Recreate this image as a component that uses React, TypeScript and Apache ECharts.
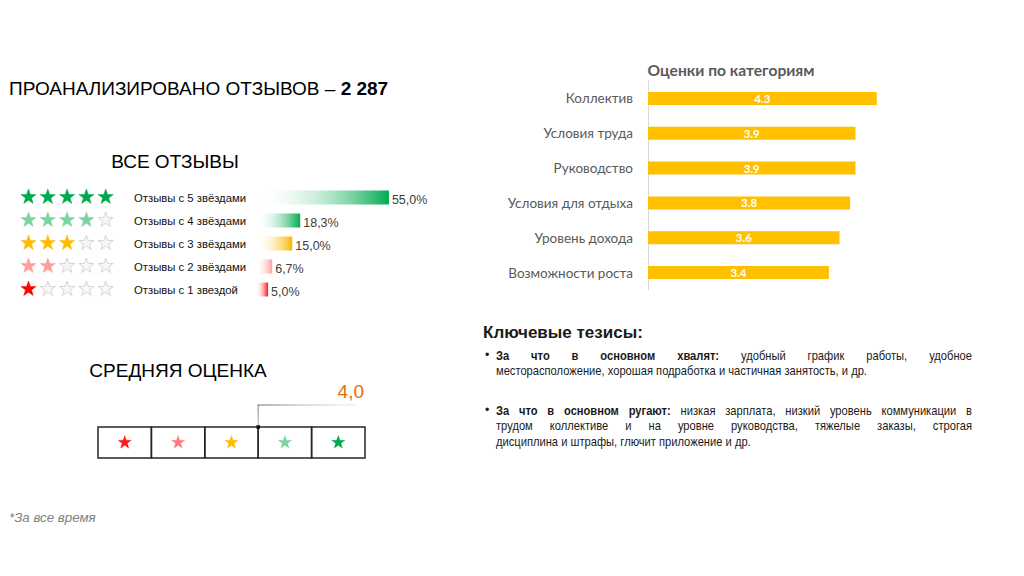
import React, { useEffect, useRef } from "react";
import * as echarts from "echarts";

// ---------- DATA ----------
const totalReviews = "2 287";
const categoryNames = [
  "Коллектив",
  "Условия труда",
  "Руководство",
  "Условия для отдыха",
  "Уровень дохода",
  "Возможности роста",
];
const categoryScores = [4.3, 3.9, 3.9, 3.8, 3.6, 3.4];

const starRowLabels = [
  "Отзывы с 5 звёздами",
  "Отзывы с 4 звёздами",
  "Отзывы с 3 звёздами",
  "Отзывы с 2 звёздами",
  "Отзывы с 1 звездой",
];
const starRowCounts = [5, 4, 3, 2, 1];
const starRowPercents = [55.0, 18.3, 15.0, 6.7, 5.0];
const averageRating = 4.0;

const praiseLead = "За что в основном хвалят:";
const praiseText = "удобный график работы, удобное месторасположение, хорошая подработка и частичная занятость, и др.";
const blameLead = "За что в основном ругают:";
const blameText = "низкая зарплата, низкий уровень коммуникации в трудом коллективе и на уровне руководства, тяжелые заказы, строгая дисциплина и штрафы, глючит приложение и др.";
// words per line for the justified paragraphs
const praiseLineWordCounts = [9, 8];
const blameLineWordCounts = [11, 9, 7];

// ---------- STYLES ----------
const ARIAL = "'Liberation Sans', Arial, sans-serif";
const CAL = "Lato, 'Noto Sans', sans-serif";
const rowStarColors = ["#00A84F", "#7DD3A0", "#FFBA00", "#FF9C9C", "#FF0000"];
const rowBarColors = ["#00AA50", "#00AA50", "#F8B800", "#FF9C9C", "#FF1010"];
const boxStarColors = ["#FF1A1A", "#FF7A7A", "#FFBA00", "#7DD3A0", "#00A84F"];

function starPts(cx: number, cy: number, R: number) {
  const r = R * 0.4;
  const pts: number[][] = [];
  for (let i = 0; i < 10; i++) {
    const a = -Math.PI / 2 + (i * Math.PI) / 5;
    const rr = i % 2 === 0 ? R : r;
    pts.push([cx + rr * Math.cos(a), cy + rr * Math.sin(a)]);
  }
  return pts;
}

function buildParagraph(
  lead: string,
  body: string,
  counts: number[],
  left: number,
  right: number,
  y0: number,
  lh: number,
  size: number,
  sx: number
) {
  const canvas = document.createElement("canvas");
  const ctx = canvas.getContext("2d")!;
  const measure = (t: string, b: boolean) => {
    ctx.font = `${b ? "bold " : ""}${size}px "Liberation Sans", Arial`;
    return ctx.measureText(t).width * sx;
  };
  const words = [
    ...lead.split(" ").map((t) => ({ t, b: true })),
    ...body.split(" ").map((t) => ({ t, b: false })),
  ];
  const els: any[] = [];
  let k = 0;
  counts.forEach((n, li) => {
    const lw = words.slice(k, k + n);
    k += n;
    const widths = lw.map((w) => measure(w.t, w.b));
    const total = widths.reduce((a, b) => a + b, 0);
    const last = li === counts.length - 1;
    const gap = last ? measure(" ", false) : (right - left - total) / (lw.length - 1);
    let x = left;
    const y = y0 + li * lh;
    lw.forEach((w, i) => {
      els.push({
        type: "text",
        x,
        y,
        scaleX: sx,
        style: {
          text: w.t,
          fill: "#1a1a1a",
          font: `${w.b ? "bold " : ""}${size}px ${ARIAL}`,
          verticalAlign: "middle",
        },
      });
      x += widths[i] + gap;
    });
  });
  els.push({
    type: "text",
    x: left - 11,
    y: y0,
    style: { text: "•", fill: "#1a1a1a", font: `${size}px ${ARIAL}`, verticalAlign: "middle" },
  });
  return els;
}

export default function App() {
  const ref = useRef<HTMLDivElement>(null);
  useEffect(() => {
    if (!ref.current) return;
    const chart = echarts.init(ref.current, undefined, { renderer: "svg" });

    const graphics: any[] = [];
    // Header
    graphics.push({
      type: "text",
      x: 9,
      y: 88,
      style: {
        text: `{a|ПРОАНАЛИЗИРОВАНО ОТЗЫВОВ – }{b|${totalReviews}}`,
        verticalAlign: "middle",
        rich: {
          a: { fontSize: 19, fontFamily: ARIAL, color: "#000" },
          b: { fontSize: 19, fontFamily: ARIAL, color: "#000", fontWeight: "bold" },
        },
      },
    });
    graphics.push({
      type: "text",
      x: 175,
      y: 161,
      style: { text: "ВСЕ ОТЗЫВЫ", font: `19px ${ARIAL}`, fill: "#000", align: "center", verticalAlign: "middle" },
    });
    graphics.push({
      type: "text",
      x: 178,
      y: 370,
      style: { text: "СРЕДНЯЯ ОЦЕНКА", font: `19px ${ARIAL}`, fill: "#000", align: "center", verticalAlign: "middle" },
    });
    graphics.push({
      type: "text",
      x: 9,
      y: 517,
      style: { text: "*За все время", font: `italic 13.3px ${ARIAL}`, fill: "#808080", verticalAlign: "middle" },
    });
    graphics.push({
      type: "text",
      x: 731,
      y: 70,
      style: { text: "Оценки по категориям", font: `bold 15.6px ${CAL}`, fill: "#595959", align: "center", verticalAlign: "middle" },
    });

    // Row stars
    const rowYs = [197.5, 220.5, 243.5, 266.5, 289.5];
    starRowCounts.forEach((cnt, r) => {
      for (let i = 0; i < 5; i++) {
        const filled = i < cnt;
        graphics.push({
          type: "polygon",
          shape: { points: starPts(28.5 + i * 19.3, rowYs[r] - 0.5, 8) },
          style: filled
            ? { fill: rowStarColors[r], stroke: rowStarColors[r], lineWidth: 0.5 }
            : { fill: "#F7F7F7", stroke: "#D6D6D6", lineWidth: 1 },
        });
      }
    });

    // Average box
    const boxL = 98, boxT = 427, cellW = 53.4, boxH = 31;
    for (let i = 0; i < 5; i++) {
      graphics.push({
        type: "rect",
        shape: { x: boxL + i * cellW, y: boxT, width: cellW, height: boxH },
        style: { fill: "none", stroke: "#262626", lineWidth: 1.5 },
      });
      graphics.push({
        type: "polygon",
        shape: { points: starPts(boxL + i * cellW + cellW / 2, boxT + 15.5, 7) },
        style: { fill: boxStarColors[i], stroke: boxStarColors[i], lineWidth: 0.3 },
      });
    }
    const avgX = boxL + (averageRating - 1) * cellW;
    graphics.push({
      type: "rect",
      shape: { x: avgX - 0.6, y: 405, width: 1.2, height: boxT - 405 },
      style: {
        fill: new echarts.graphic.LinearGradient(0, 0, 0, 1, [
          { offset: 0, color: "#8a8a8a" },
          { offset: 1, color: "#c8c8c8" },
        ]),
      },
    });
    graphics.push({
      type: "rect",
      shape: { x: avgX - 0.6, y: 404.4, width: 358 - avgX, height: 1.2 },
      style: {
        fill: new echarts.graphic.LinearGradient(0, 0, 1, 0, [
          { offset: 0, color: "#6a6a6a" },
          { offset: 1, color: "rgba(210,210,210,0.4)" },
        ]),
      },
    });
    graphics.push({
      type: "rect",
      shape: { x: avgX - 1.8, y: boxT - 1.8, width: 3.6, height: 3.6 },
      style: { fill: "#111" },
    });
    graphics.push({
      type: "text",
      x: 364,
      y: 391,
      style: {
        text: averageRating.toFixed(1).replace(".", ","),
        font: `19px ${ARIAL}`,
        fill: "#E46C0A",
        align: "right",
        verticalAlign: "middle",
      },
    });

    // Theses
    graphics.push({
      type: "text",
      x: 483,
      y: 332,
      style: { text: "Ключевые тезисы:", font: `bold 17px ${ARIAL}`, fill: "#1a1a1a", verticalAlign: "middle" },
    });
    graphics.push(...buildParagraph(praiseLead, praiseText, praiseLineWordCounts, 496, 972, 355, 15.5, 12.4, 0.9));
    graphics.push(...buildParagraph(blameLead, blameText, blameLineWordCounts, 496, 972, 410, 15.5, 12.4, 0.9));

    chart.setOption({
      animation: false,
      backgroundColor: "#fff",
      grid: [
        { left: 256, top: 186, width: 145, height: 115 },
        { left: 648, top: 81, width: 266, height: 209 },
      ],
      xAxis: [
        { gridIndex: 0, type: "value", min: 0, max: 60, show: false },
        { gridIndex: 1, type: "value", min: 0, max: 5, show: false },
      ],
      yAxis: [
        {
          gridIndex: 0,
          type: "category",
          inverse: true,
          data: starRowLabels,
          axisLine: { show: false },
          axisTick: { show: false },
          axisLabel: { align: "left", margin: 122, fontSize: 11.3, color: "#111", fontFamily: ARIAL },
        },
        {
          gridIndex: 1,
          type: "category",
          inverse: true,
          data: categoryNames,
          axisLine: { show: true, lineStyle: { color: "#D9D9D9", width: 1 } },
          axisTick: { show: false },
          axisLabel: { margin: 15, fontSize: 13.5, color: "#595959", fontFamily: CAL },
        },
      ],
      series: [
        {
          type: "bar",
          xAxisIndex: 0,
          yAxisIndex: 0,
          barWidth: 14,
          data: starRowPercents.map((v, i) => ({
            value: v,
            itemStyle: {
              color: new echarts.graphic.LinearGradient(0, 0, 1, 0, [
                { offset: 0, color: "rgba(255,255,255,0)" },
                { offset: 1, color: rowBarColors[i] },
              ]),
            },
          })),
          label: {
            show: true,
            position: "right",
            distance: 3,
            offset: [0, 2],
            fontSize: 12.5,
            fontFamily: ARIAL,
            color: "#404040",
            formatter: (p: any) => p.value.toFixed(1).replace(".", ",") + "%",
          },
        },
        {
          type: "bar",
          xAxisIndex: 1,
          yAxisIndex: 1,
          barWidth: 13,
          data: categoryScores,
          itemStyle: { color: "#FFC000" },
          label: {
            show: true,
            position: "inside",
            color: "#fff",
            fontWeight: "bold",
            fontSize: 11.5,
            fontFamily: CAL,
            formatter: (p: any) => p.value.toFixed(1),
          },
        },
      ],
      graphic: graphics,
    });
    return () => chart.dispose();
  }, []);
  return (
    <div
      ref={ref}
      style={{ position: "fixed", left: 0, top: 0, width: 1024, height: 576, background: "#fff" }}
    />
  );
}
